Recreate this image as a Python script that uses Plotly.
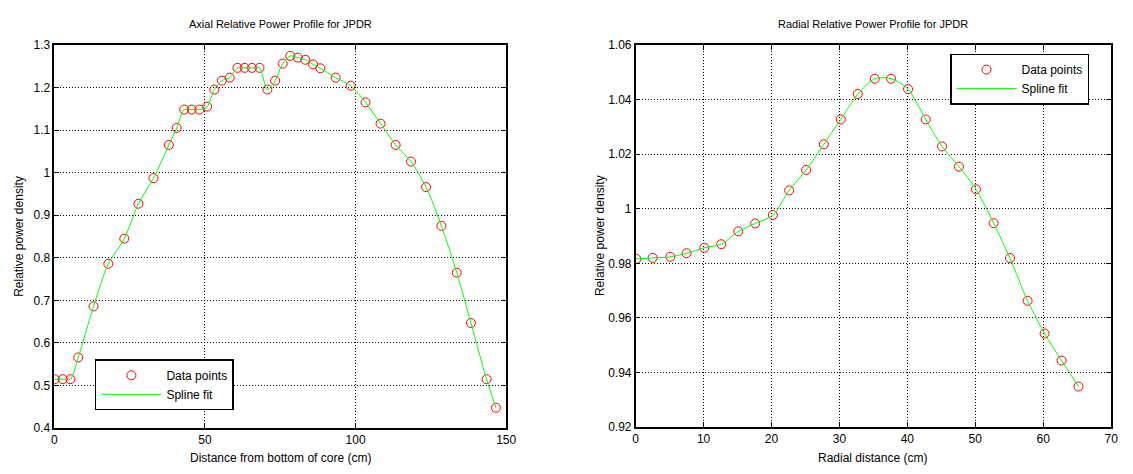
import plotly.graph_objects as go

# Axial profile (left)
axial_x = [0.1, 2.8, 5.3, 7.9, 13.0, 17.9, 23.2, 27.9, 32.9, 38.0, 40.6, 43.1, 45.6, 48.1,
           50.7, 53.1, 55.6, 58.2, 60.8, 63.2, 65.6, 68.1, 70.7, 73.3, 75.8, 78.3, 80.8,
           83.3, 85.9, 88.3, 93.4, 98.4, 103.3, 108.3, 113.3, 118.4, 123.4, 128.5, 133.6,
           138.3, 143.5, 146.6]
axial_y = [0.515, 0.515, 0.515, 0.566, 0.686, 0.786, 0.845, 0.927, 0.987, 1.065, 1.105, 1.148,
           1.148, 1.148, 1.155, 1.195, 1.216, 1.223, 1.246, 1.246, 1.246, 1.246, 1.195, 1.216,
           1.256, 1.274, 1.270, 1.265, 1.254, 1.245, 1.223, 1.204, 1.165, 1.115, 1.065, 1.026,
           0.966, 0.875, 0.765, 0.647, 0.515, 0.448]

# Radial profile (right)
radial_x = [0.1, 2.5, 5.1, 7.5, 10.1, 12.6, 15.1, 17.6, 20.2, 22.6, 25.1, 27.7, 30.2, 32.7,
            35.2, 37.6, 40.1, 42.7, 45.1, 47.6, 50.1, 52.7, 55.1, 57.7, 60.2, 62.7, 65.2]
radial_y = [0.9816, 0.9820, 0.9824, 0.9837, 0.9857, 0.9870, 0.9917, 0.9946, 0.9977, 1.0067,
            1.0142, 1.0236, 1.0327, 1.0420, 1.0476, 1.0476, 1.0438, 1.0327, 1.0228, 1.0154,
            1.0071, 0.9947, 0.9819, 0.9663, 0.9543, 0.9444, 0.9349]

left_ticks_x = [0, 50, 100, 150]
left_ticks_y = [0.4, 0.5, 0.6, 0.7, 0.8, 0.9, 1.0, 1.1, 1.2, 1.3]
left_ticktext_y = ["0.4", "0.5", "0.6", "0.7", "0.8", "0.9", "1", "1.1", "1.2", "1.3"]
right_ticks_x = [0, 10, 20, 30, 40, 50, 60, 70]
right_ticks_y = [0.92, 0.94, 0.96, 0.98, 1.0, 1.02, 1.04, 1.06]
right_ticktext_y = ["0.92", "0.94", "0.96", "0.98", "1", "1.02", "1.04", "1.06"]

FONT = "Liberation Sans, Arial, sans-serif"
RED = "#ff0000"
GREEN = "#00ff00"

fig = go.Figure()

fig.add_trace(go.Scatter(x=axial_x, y=axial_y, mode="markers", name="Data points",
                         marker=dict(symbol="circle-open", size=9, color=RED, line=dict(width=1)),
                         xaxis="x", yaxis="y", legend="legend"))
fig.add_trace(go.Scatter(x=axial_x, y=axial_y, mode="lines", name="Spline fit",
                         line=dict(color=GREEN, width=1, shape="spline", smoothing=0.8),
                         xaxis="x", yaxis="y", legend="legend"))
fig.add_trace(go.Scatter(x=radial_x, y=radial_y, mode="markers", name="Data points",
                         marker=dict(symbol="circle-open", size=9, color=RED, line=dict(width=1)),
                         xaxis="x2", yaxis="y2", legend="legend2"))
fig.add_trace(go.Scatter(x=radial_x, y=radial_y, mode="lines", name="Spline fit",
                         line=dict(color=GREEN, width=1, shape="spline", smoothing=0.8),
                         xaxis="x2", yaxis="y2", legend="legend2"))

W, H = 1133, 474
def dx(px):
    return px / W
def dy(py):
    return 1 - py / H

axis_common = dict(showline=True, linecolor="black", linewidth=1.5, mirror="ticks",
                   ticks="inside", ticklen=5, tickcolor="black", showgrid=True,
                   gridcolor="black", griddash="1px,2px", gridwidth=1, zeroline=False,
                   tickfont=dict(family=FONT, size=12, color="black"))

fig.update_layout(
    width=W, height=H,
    margin=dict(l=0, r=0, t=0, b=0),
    paper_bgcolor="white", plot_bgcolor="white",
    font=dict(family=FONT, size=12, color="black"),
    xaxis=dict(domain=[dx(52), dx(509)], range=[0, 150], tickvals=left_ticks_x,
               anchor="y", **axis_common),
    yaxis=dict(domain=[dy(434), dy(39)], range=[0.4, 1.3], tickvals=left_ticks_y,
               ticktext=left_ticktext_y, anchor="x", **axis_common),
    xaxis2=dict(domain=[dx(640), dx(1121)], range=[0, 70], tickvals=right_ticks_x,
                anchor="y2", **axis_common),
    yaxis2=dict(domain=[dy(433), dy(39)], range=[0.92, 1.06], tickvals=right_ticks_y,
                ticktext=right_ticktext_y, anchor="x2", **axis_common),
    legend=dict(x=dx(93), y=dy(363), xanchor="left", yanchor="top",
                bgcolor="white", bordercolor="black", borderwidth=1.5,
                font=dict(family=FONT, size=12), tracegroupgap=0, itemwidth=60),
    legend2=dict(x=dx(958), y=dy(48), xanchor="left", yanchor="top",
                 bgcolor="white", bordercolor="black", borderwidth=1.5,
                 font=dict(family=FONT, size=12), tracegroupgap=0, itemwidth=60),
    showlegend=True,
)

annots = [
    dict(text="Axial Relative Power Profile for JPDR", x=dx(281), y=dy(18), size=11, angle=0),
    dict(text="Radial Relative Power Profile for JPDR", x=dx(880), y=dy(18), size=11, angle=0),
    dict(text="Distance from bottom of core (cm)", x=dx(281), y=dy(465), size=12, angle=0),
    dict(text="Radial distance (cm)", x=dx(880), y=dy(465), size=12, angle=0),
    dict(text="Relative power density", x=dx(16), y=dy(236), size=12, angle=-90),
    dict(text="Relative power density", x=dx(604), y=dy(236), size=12, angle=-90),
]
for a in annots:
    fig.add_annotation(text=a["text"], x=a["x"], y=a["y"], xref="paper", yref="paper",
                       xanchor="center", yanchor="middle", showarrow=False,
                       textangle=a["angle"], font=dict(family=FONT, size=a["size"], color="black"))

fig.write_html("out.html")
